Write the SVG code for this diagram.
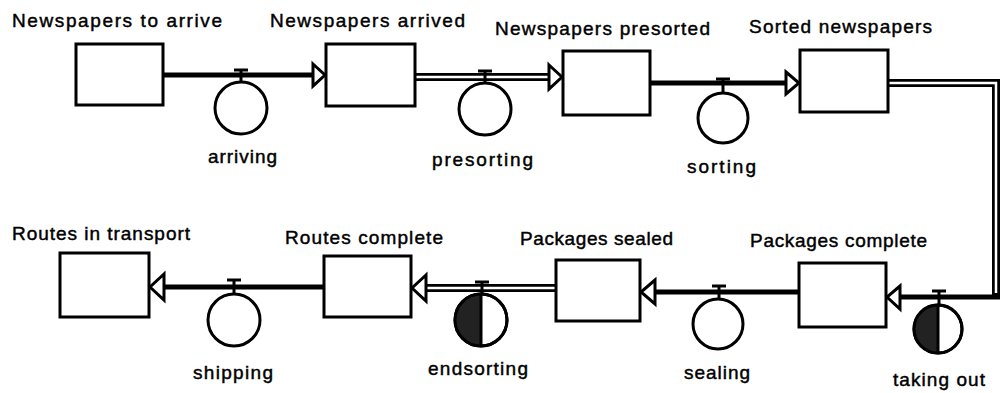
<svg xmlns="http://www.w3.org/2000/svg" width="1004" height="393" viewBox="0 0 1004 393">
  <style>
    .stock { fill: #fff; stroke: #000; stroke-width: 3; }
    .pipe { fill: none; stroke: #000; stroke-width: 5; }
    .pipe2 { fill: none; stroke: #000; stroke-width: 8; }
    .pipe2in { fill: none; stroke: #fff; stroke-width: 2.5; }
    .head { fill: #fff; stroke: #000; stroke-width: 3; stroke-linejoin: miter; }
    .valve { fill: #fff; stroke: #000; stroke-width: 3; }
    .ring { fill: none; stroke: #000; stroke-width: 3; }
    .bar { stroke: #000; stroke-width: 3; fill: none; }
    .dark { fill: #222; stroke: none; }
    .lbl { font-family: "Liberation Sans", Arial, sans-serif; font-size: 19px; fill: #000; stroke: #000; stroke-width: 0.45; }
    .flbl { font-family: "Liberation Sans", Arial, sans-serif; font-size: 19px; fill: #000; stroke: #000; stroke-width: 0.45; }
  </style>

  <!-- Flow pipes and arrowheads -->
  <g id="connectors">
    <!-- arriving -->
    <line class="pipe" x1="163" y1="75" x2="314" y2="75"/>
    <!-- presorting (double pipe) -->
    <line class="pipe2" x1="415" y1="77" x2="549" y2="77"/>
    <line class="pipe2in" x1="415" y1="77" x2="549" y2="77"/>
    <!-- sorting -->
    <line class="pipe" x1="650" y1="83" x2="787" y2="83"/>
    <!-- taking out: double pipe over the top and down the side, single along the bottom -->
    <path class="pipe2" d="M888 83 H996 V297"/>
    <path class="pipe2in" d="M888 83 H996 V293"/>
    <path class="pipe" d="M1000 297 H900"/>
    <!-- sealing -->
    <line class="pipe" x1="798" y1="292" x2="655" y2="292"/>
    <!-- endsorting (double pipe) -->
    <line class="pipe2" x1="555" y1="288" x2="426" y2="288"/>
    <line class="pipe2in" x1="555" y1="288" x2="426" y2="288"/>
    <!-- shipping -->
    <line class="pipe" x1="323" y1="287" x2="164" y2="287"/>

    <!-- arrowheads -->
    <polygon class="head" points="313,64 325,75 313,86"/>
    <polygon class="head" points="549,65 562,77 549,89"/>
    <polygon class="head" points="786,72 799,83 786,94"/>
    <polygon class="head" points="900,286 887,297 900,309"/>
    <polygon class="head" points="655,280 641,292 655,304"/>
    <polygon class="head" points="426,275 412,288 426,301"/>
    <polygon class="head" points="164,274 150,287 164,300"/>
  </g>

  <!-- Rates (valves) -->
  <g id="arriving">
    <line class="bar" x1="234" y1="70" x2="248" y2="70"/>
    <line class="bar" x1="241" y1="70" x2="241" y2="82"/>
    <circle class="valve" cx="241" cy="108" r="26"/>
    <text class="flbl" x="208" y="163" textLength="69" lengthAdjust="spacing">arriving</text>
  </g>
  <g id="presorting">
    <line class="bar" x1="478" y1="71" x2="492" y2="71"/>
    <line class="bar" x1="485" y1="71" x2="485" y2="83"/>
    <circle class="valve" cx="485" cy="109" r="26"/>
    <text class="flbl" x="432" y="166" textLength="101" lengthAdjust="spacing">presorting</text>
  </g>
  <g id="sorting">
    <line class="bar" x1="716" y1="79" x2="730" y2="79"/>
    <line class="bar" x1="723" y1="79" x2="723" y2="93"/>
    <circle class="valve" cx="723" cy="118" r="25"/>
    <text class="flbl" x="687" y="173" textLength="69" lengthAdjust="spacing">sorting</text>
  </g>
  <g id="taking_out">
    <line class="bar" x1="932" y1="291" x2="946" y2="291"/>
    <line class="bar" x1="939" y1="291" x2="939" y2="305"/>
    <circle class="valve" cx="938" cy="329" r="24"/>
    <path class="dark" d="M938 305 A24 24 0 0 0 938 353 Z"/>
    <circle class="ring" cx="938" cy="329" r="24"/>
    <line class="bar" x1="938" y1="305" x2="938" y2="353"/>
    <text class="flbl" x="893" y="386" textLength="92" lengthAdjust="spacing">taking out</text>
  </g>
  <g id="sealing">
    <line class="bar" x1="712" y1="286" x2="726" y2="286"/>
    <line class="bar" x1="719" y1="286" x2="719" y2="299"/>
    <circle class="valve" cx="718" cy="324" r="25"/>
    <text class="flbl" x="684" y="379" textLength="66" lengthAdjust="spacing">sealing</text>
  </g>
  <g id="endsorting">
    <line class="bar" x1="475" y1="282" x2="489" y2="282"/>
    <line class="bar" x1="482" y1="282" x2="482" y2="294"/>
    <circle class="valve" cx="481" cy="320" r="26"/>
    <path class="dark" d="M481 294 A26 26 0 0 0 481 346 Z"/>
    <circle class="ring" cx="481" cy="320" r="26"/>
    <line class="bar" x1="481" y1="294" x2="481" y2="346"/>
    <text class="flbl" x="428" y="375" textLength="100" lengthAdjust="spacing">endsorting</text>
  </g>
  <g id="shipping">
    <line class="bar" x1="227" y1="280" x2="241" y2="280"/>
    <line class="bar" x1="234" y1="280" x2="234" y2="294"/>
    <circle class="valve" cx="234" cy="320" r="26"/>
    <text class="flbl" x="193" y="379" textLength="80" lengthAdjust="spacing">shipping</text>
  </g>

  <!-- Stocks -->
  <g id="newspapers_to_arrive">
    <rect class="stock" x="76" y="44" width="87" height="61"/>
    <text class="lbl" x="12" y="27" textLength="210" lengthAdjust="spacing">Newspapers to arrive</text>
  </g>
  <g id="newspapers_arrived">
    <rect class="stock" x="326" y="44" width="89" height="62"/>
    <text class="lbl" x="270" y="27" textLength="195" lengthAdjust="spacing">Newspapers arrived</text>
  </g>
  <g id="newspapers_presorted">
    <rect class="stock" x="563" y="51" width="87" height="64"/>
    <text class="lbl" x="495" y="35" textLength="215" lengthAdjust="spacing">Newspapers presorted</text>
  </g>
  <g id="sorted_newspapers">
    <rect class="stock" x="800" y="50" width="88" height="62"/>
    <text class="lbl" x="749" y="33" textLength="183" lengthAdjust="spacing">Sorted newspapers</text>
  </g>
  <g id="packages_complete">
    <rect class="stock" x="799" y="263" width="87" height="64"/>
    <text class="lbl" x="750" y="247" textLength="177" lengthAdjust="spacing">Packages complete</text>
  </g>
  <g id="packages_sealed">
    <rect class="stock" x="556" y="260" width="84" height="61"/>
    <text class="lbl" x="520" y="245" textLength="153" lengthAdjust="spacing">Packages sealed</text>
  </g>
  <g id="routes_complete">
    <rect class="stock" x="324" y="256" width="87" height="61"/>
    <text class="lbl" x="285" y="244" textLength="158" lengthAdjust="spacing">Routes complete</text>
  </g>
  <g id="routes_in_transport">
    <rect class="stock" x="60" y="253" width="89" height="64"/>
    <text class="lbl" x="12" y="240" textLength="178" lengthAdjust="spacing">Routes in transport</text>
  </g>
</svg>
